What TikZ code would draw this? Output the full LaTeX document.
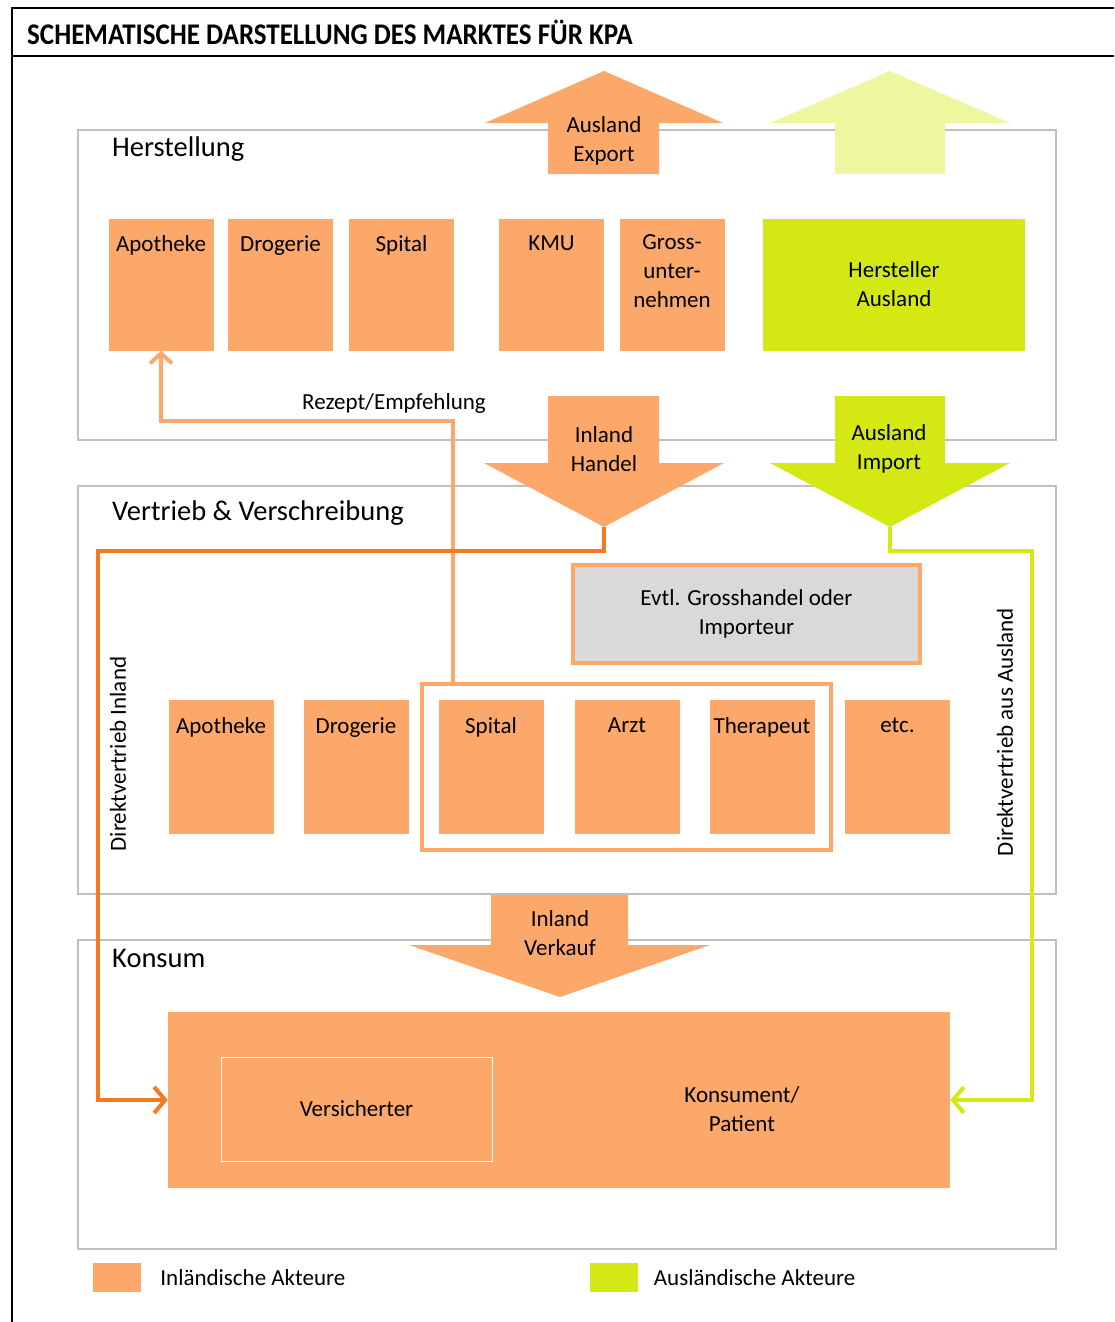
\documentclass[tikz,border=0pt]{standalone}
\usepackage{fontspec}
\setmainfont{Carlito}
\usepackage{graphicx}
\usetikzlibrary{arrows.meta, positioning, fit}
\definecolor{corange}{HTML}{FBA86A}
\definecolor{cdarkorange}{HTML}{F47920}
\definecolor{cgreen}{HTML}{D4E814}
\definecolor{lightgreen}{HTML}{EEF6A0}
\definecolor{cgray}{HTML}{BFBFBF}
\definecolor{lightgray}{HTML}{D9D9D9}

\begin{document}
\begin{tikzpicture}[x=1pt, y=-1pt,
  txt/.style={font=\fontsize{23}{29}\selectfont, align=center, inner sep=0pt},
  sectlabel/.style={font=\fontsize{28.5}{34}\selectfont, anchor=west, inner sep=0pt},
  sect/.style={draw=cgray, line width=1.5pt, minimum width=978pt, inner sep=0pt},
  actor/.style={fill=corange, inner sep=0pt, minimum width=105pt, minimum height=132pt},
  toplabel/.style={txt, anchor=north, yshift=-17pt},
  legendbox/.style={inner sep=0pt, minimum width=48pt, minimum height=29pt}]
  \useasboundingbox (0,0) rectangle (1114,1322);

  % frame and title
  \draw[line width=2pt] (12,1322) -- (12,8) -- (1114,8);
  \draw[line width=1.5pt] (12,56) -- (1114,56);
  \node[anchor=west, inner sep=0pt] (title) at (27,32)
    {\scalebox{0.9}[1]{\fontsize{30}{34}\selectfont\bfseries SCHEMATISCHE DARSTELLUNG DES MARKTES FÜR KPA}};

  % sections
  \node[sect, minimum height=310pt] (herst) at (567,285) {};
  \node[sect, minimum height=408pt] (vertr) at (567,690) {};
  \node[sect, minimum height=309pt] (kons) at (567,1094.5) {};
  \node[sectlabel] (herstlabel) at (112,149) {Herstellung};
  \node[sectlabel] (vertrlabel) at (112,513) {Vertrieb \& Verschreibung};
  \node[sectlabel] (konslabel) at (112,958) {Konsum};

  % Herstellung
  \node[actor, label={[toplabel]north:Apotheke}] (hap) at (161,284.5) {};
  \node[actor, label={[toplabel]north:Drogerie}] (hdr) at (280.5,284.5) {};
  \node[actor, label={[toplabel]north:Spital}] (hsp) at (401.5,284.5) {};
  \node[actor, label={[toplabel]north:KMU}] (hkmu) at (551.5,284.5) {};
  \node[actor, label={[toplabel, yshift=1pt]north:Gross-\\unter-\\nehmen}] (hgross) at (672,284.5) {};
  \node[actor, fill=cgreen, minimum width=262pt, txt] (hausl) at (894,284.5) {Hersteller\\Ausland};

  % arrows out of / into Herstellung
  \fill[corange] (548,174) -- (548,123) -- (485,123) -- (604,71) -- (723,123) -- (659,123) -- (659,174) -- cycle;
  \node[txt] (export) at (604,141) {Ausland\\Export};
  \fill[lightgreen] (835,174) -- (835,123) -- (770,123) -- (890,71) -- (1010,123) -- (945,123) -- (945,174) -- cycle;

  \fill[corange] (548,396) -- (548,463) -- (484,463) -- (604,527) -- (724,463) -- (659,463) -- (659,396) -- cycle;
  \coordinate (htip) at (604,527);
  \node[txt] (handel) at (604,449) {Inland\\Handel};
  \fill[cgreen] (835,396) -- (835,463) -- (770,463) -- (890,527) -- (1010,463) -- (945,463) -- (945,396) -- cycle;
  \coordinate (itip) at (890,527);
  \node[txt] (import) at (889,449) {Ausland\\Import};

  % Vertrieb & Verschreibung
  \node[fill=lightgray, draw=corange, line width=4pt, minimum width=347pt, minimum height=98pt, txt]
    (grossh) at (746.5,614) {Evtl. Grosshandel oder\\Importeur};
  \node[actor, minimum height=134pt, label={[toplabel, yshift=-1pt]north:Apotheke}] (vap) at (221,767) {};
  \node[actor, minimum height=134pt, label={[toplabel, yshift=-1pt]north:Drogerie}] (vdr) at (356,767) {};
  \node[actor, minimum height=134pt, label={[toplabel, yshift=-1pt]north:Spital}] (vsp) at (491,767) {};
  \node[actor, minimum height=134pt, label={[toplabel, yshift=-1pt]north:Arzt}] (var) at (627,767) {};
  \node[actor, minimum height=134pt, label={[toplabel, yshift=-1pt]north:Therapeut}] (vth) at (762,767) {};
  \node[actor, minimum height=134pt, label={[toplabel, yshift=-1pt]north:etc.}] (vetc) at (897.5,767) {};
  \node[draw=corange, line width=4pt, inner xsep=16pt, inner ysep=16pt, fit=(vsp)(vth)] (grp) {};
  \node[txt, rotate=90] (dirin) at (118,754) {Direktvertrieb Inland};
  \node[txt, rotate=90] (diraus) at (1005,732) {Direktvertrieb aus Ausland};

  \draw[corange, line width=4pt, -{Straight Barb[length=10pt, width=22pt]}]
    ([xshift=33pt]grp.north west) |- ([yshift=-70pt]hap.south) -- (hap.south);
  \node[txt] (rezept) at (394,403) {Rezept/Empfehlung};

  % Konsum
  \fill[corange] (491,895) -- (491,945) -- (409,945) -- (560,997) -- (710,945) -- (628,945) -- (628,895) -- cycle;
  \node[txt] (verkauf) at (560,933) {Inland\\Verkauf};
  \node[fill=corange, inner sep=0pt, minimum width=782pt, minimum height=176pt] (konsum) at (559,1100) {};
  \node[draw=white, line width=1pt, minimum width=271pt, minimum height=104pt, txt] (vers) at (356.5,1109) {Versicherter};
  \node[txt] (patient) at (742,1109) {Konsument/\\Patient};

  \draw[cdarkorange, line width=4pt, -{Straight Barb[length=11pt, width=26pt]}]
    (htip) -- ++(0,24) -| ([xshift=-70pt]konsum.west) -- (konsum.west);
  \draw[cgreen, line width=4pt, -{Straight Barb[length=11pt, width=26pt]}]
    (itip) -- ++(0,24) -| ([xshift=82pt]konsum.east) -- (konsum.east);

  % legend
  \node[legendbox, fill=corange] (legin) at (117,1277.5) {};
  \node[txt, anchor=west, right=19pt of legin] (legintxt) {Inländische Akteure};
  \node[legendbox, fill=cgreen] (legaus) at (613.5,1277.5) {};
  \node[txt, anchor=west, right=16pt of legaus] (legaustxt) {Ausländische Akteure};
\end{tikzpicture}
\end{document}
